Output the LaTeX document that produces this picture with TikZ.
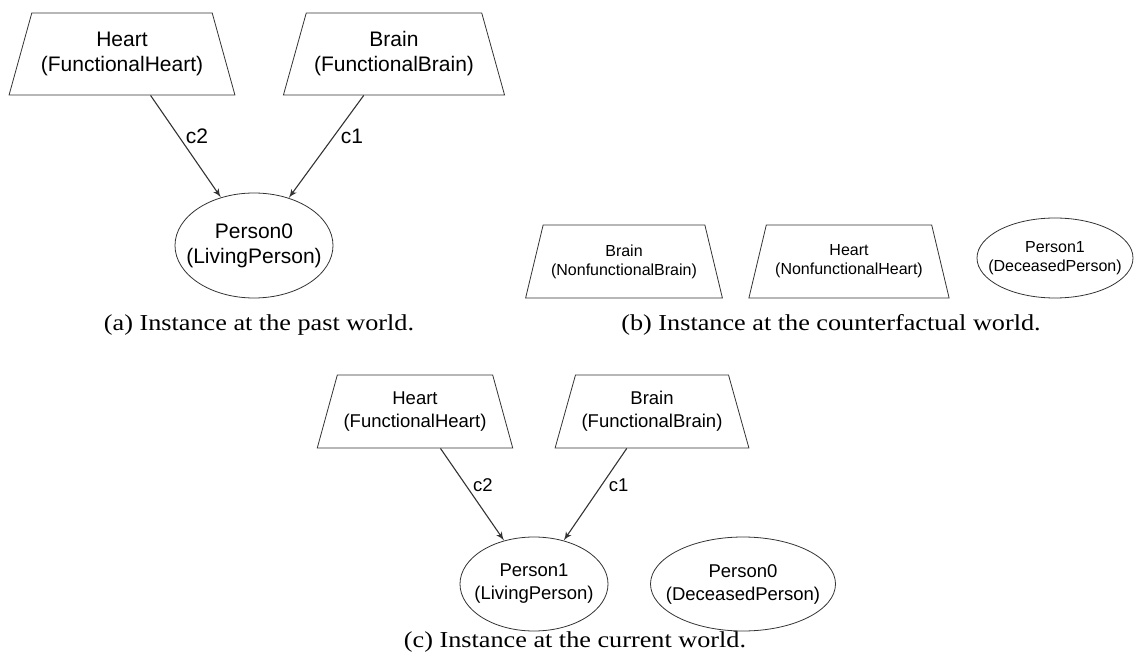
\documentclass[tikz,border=0pt]{standalone}
\usepackage{fontspec}
\setmainfont[FakeStretch=1.15]{Liberation Serif}
\setsansfont{Liberation Sans}
\usetikzlibrary{shapes.geometric, arrows, positioning}
\tikzstyle{atom} = [trapezium, draw=black!80, trapezium angle=65, trapezium stretches=true, align=center, inner sep=0pt]
\tikzstyle{person} = [ellipse, draw=black!80, align=center, inner sep=-40pt]
\tikzstyle{line} = [draw=black!80, -latex', line width=0.55pt]
\tikzstyle{caption} = [font=\fontsize{11.4}{13}\selectfont]

\begin{document}
\begin{tikzpicture}[x=0.5pt, y=-0.5pt, >=latex']
        \useasboundingbox (0,0) rectangle (1134,657);

        % (a) past world
        \begin{scope}[every node/.append style={font=\sffamily\fontsize{10.5}{12.5}\selectfont}]
        \node [atom, minimum width=113pt, minimum height=41pt] (heartA) at (122,54) {Heart\\(FunctionalHeart)};
        \node [atom, minimum width=111pt, minimum height=41pt] (brainA) at (394,54) {Brain\\(FunctionalBrain)};
        \node [person, minimum width=79pt, minimum height=52.5pt] (personA) at (254,245.5) {Person0\\(LivingPerson)};
        \draw [line] (heartA) -- node[right, pos=0.4] {c2} (personA);
        \draw [line] (brainA) -- node[right, pos=0.4] {c1} (personA);
        \end{scope}

        % (b) counterfactual world
        \begin{scope}[every node/.append style={font=\sffamily\fontsize{8}{9.5}\selectfont}]
        \node [atom, minimum width=99pt, minimum height=36.5pt] (brainB) at (624,261.5) {Brain\\(NonfunctionalBrain)};
        \node [atom, minimum width=101pt, minimum height=36.5pt] (heartB) at (849,261.5) {Heart\\(NonfunctionalHeart)};
        \node [person, minimum width=78pt, minimum height=40pt] (personB) at (1055,258) {Person1\\(DeceasedPerson)};
        \end{scope}

        % (c) current world
        \begin{scope}[every node/.append style={font=\sffamily\fontsize{9.25}{11.5}\selectfont}]
        \node [atom, minimum width=98pt, minimum height=36.5pt] (heartC) at (415,411.5) {Heart\\(FunctionalHeart)};
        \node [atom, minimum width=97pt, minimum height=36.5pt] (brainC) at (652,411.5) {Brain\\(FunctionalBrain)};
        \node [person, minimum width=74pt, minimum height=47pt] (livingC) at (534,584) {Person1\\(LivingPerson)};
        \node [person, minimum width=92.5pt, minimum height=47pt] (deceasedC) at (743,584) {Person0\\(DeceasedPerson)};
        \draw [line] (heartC) -- node[right, pos=0.4] {c2} (livingC);
        \draw [line] (brainC) -- node[right, pos=0.4] {c1} (livingC);
        \end{scope}

        % Captions
        \node [caption] (capA) at (259,325) {(a) Instance at the past world.};
        \node [caption] (capB) at (831,325) {(b) Instance at the counterfactual world.};
        \node [caption] (capC) at (575,642) {(c) Instance at the current world.};
    \end{tikzpicture}
\end{document}
